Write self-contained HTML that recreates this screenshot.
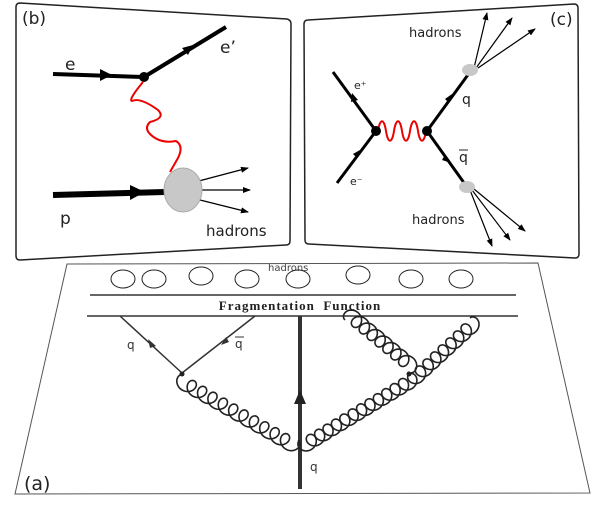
<!DOCTYPE html>
<html><head><meta charset="utf-8"><style>
html,body{margin:0;padding:0;background:#fff;width:600px;height:505px;overflow:hidden}
svg{display:block}
text{font-family:"DejaVu Sans","Liberation Sans",sans-serif}
</style></head><body>
<svg id="s" width="600" height="505" viewBox="0 0 600 505" xmlns="http://www.w3.org/2000/svg">
<defs>
<marker id="ah" markerWidth="8" markerHeight="8" refX="7" refY="4" orient="auto" markerUnits="userSpaceOnUse"><path d="M0,1 L8,4 L0,7 Z" fill="#000"/></marker>
</defs>
<path d="M20,3 L287,19 Q291,20 291,24 L290,241 Q290,245 286,245 L20,260 Q16,260 16,256 L16,7 Q16,3 20,3 Z" fill="#fff" stroke="#222" stroke-width="1.5"/>
<path d="M308,20 L574,4 Q578,4 578,8 L579,254 Q579,258 575,258 L309,244 Q305,244 305,240 L304,24 Q304,20 308,20 Z" fill="#fff" stroke="#222" stroke-width="1.5"/>
<path d="M67,264 L538,263 L590,493 L15,494 Z" fill="#fff" stroke="#555" stroke-width="1"/>

<text x="22" y="24" font-size="17" fill="#222">(b)</text>
<line x1="53" y1="74" x2="144" y2="77" stroke="#000" stroke-width="4"/>
<path d="M100,69 L112,75 L100,81 Z" fill="#000"/>
<line x1="144" y1="77" x2="226" y2="27" stroke="#000" stroke-width="4"/>
<path d="M182,48 L193,45 L188,55 Z" fill="#000"/>
<circle cx="144" cy="77" r="5" fill="#000"/>
<text x="65" y="70" font-size="17" fill="#222">e</text>
<text x="220" y="53" font-size="17" fill="#222">e’</text>
<path d="M143,82 Q128,100 132,101 Q140,97 158,110 Q166,118 150,122 Q144,128 150,134 Q160,144 176,141 Q184,146 178,158 L170,172" fill="none" stroke="#e00" stroke-width="2" stroke-linejoin="round"/>
<line x1="53" y1="195" x2="165" y2="192" stroke="#000" stroke-width="6"/>
<path d="M130,185 L145,192 L130,200 Z" fill="#000"/>
<line x1="195" y1="182" x2="248" y2="168" stroke="#000" stroke-width="1.3" marker-end="url(#ah)"/>
<line x1="200" y1="190" x2="250" y2="190" stroke="#000" stroke-width="1.3" marker-end="url(#ah)"/>
<line x1="196" y1="199" x2="248" y2="212" stroke="#000" stroke-width="1.3" marker-end="url(#ah)"/>
<ellipse cx="183" cy="190" rx="19" ry="22" fill="#c8c8c8" stroke="#aaa"/>
<text x="60" y="224" font-size="17" fill="#222">p</text>
<text x="206" y="236" font-size="15" fill="#222">hadrons</text>

<text x="550" y="25" font-size="17" fill="#222">(c)</text>
<line x1="333" y1="72" x2="376" y2="131" stroke="#000" stroke-width="3"/>
<line x1="337" y1="183" x2="376" y2="131" stroke="#000" stroke-width="3"/>
<line x1="427" y1="131" x2="470" y2="72" stroke="#000" stroke-width="3"/>
<line x1="427" y1="131" x2="467" y2="187" stroke="#000" stroke-width="3"/>
<path d="M352,93 L358,100 L351,102 Z" fill="#000"/>
<path d="M360,150 L357,158 L353,154 Z" fill="#000"/>
<path d="M452,94 L449,103 L445,99 Z" fill="#000"/>
<path d="M445,155 L448,162 L442,160 Z" fill="#000"/>
<path d="M378,131 C380,118 384,118 386,131 C388,144 392,144 394,131 C396,118 400,118 402,131 C404,144 408,144 410,131 C412,118 416,118 418,131 C420,144 424,144 426,131" fill="none" stroke="#e00" stroke-width="2"/>
<circle cx="376" cy="131" r="5" fill="#000"/>
<circle cx="427" cy="131" r="5" fill="#000"/>
<g stroke="#000" stroke-width="1.2">
<line x1="474" y1="68" x2="487" y2="13" marker-end="url(#ah)"/>
<line x1="476" y1="68" x2="512" y2="18" marker-end="url(#ah)"/>
<line x1="478" y1="68" x2="535" y2="29" marker-end="url(#ah)"/>
<line x1="470" y1="190" x2="492" y2="246" marker-end="url(#ah)"/>
<line x1="472" y1="190" x2="510" y2="240" marker-end="url(#ah)"/>
<line x1="474" y1="189" x2="525" y2="231" marker-end="url(#ah)"/>
</g>
<ellipse cx="470" cy="70" rx="8" ry="6" fill="#c8c8c8"/>
<ellipse cx="467" cy="187" rx="8" ry="6" fill="#c8c8c8"/>
<text x="409" y="37" font-size="13" fill="#222">hadrons</text>
<text x="412" y="224" font-size="13" fill="#222">hadrons</text>
<text x="354" y="89" font-size="11" fill="#222">e⁺</text>
<text x="350" y="185" font-size="11" fill="#222">e⁻</text>
<text x="462" y="104" font-size="14" fill="#222">q</text>
<text x="459" y="162" font-size="14" fill="#222">q</text>
<line x1="459" y1="150" x2="468" y2="150" stroke="#222" stroke-width="1"/>

<text x="268" y="271" font-size="10" fill="#444">hadrons</text>
<g fill="none" stroke="#222" stroke-width="1">
<ellipse cx="123" cy="279" rx="12" ry="9"/><ellipse cx="154" cy="279" rx="12" ry="9"/>
<ellipse cx="201" cy="276" rx="12" ry="9"/><ellipse cx="247" cy="279" rx="12" ry="9"/>
<ellipse cx="298" cy="279" rx="12" ry="9"/><ellipse cx="358" cy="275" rx="12" ry="9"/>
<ellipse cx="411" cy="279" rx="12" ry="9"/><ellipse cx="461" cy="279" rx="12" ry="9"/>
</g>
<line x1="90" y1="295" x2="516" y2="295" stroke="#333" stroke-width="1.5"/>
<line x1="87" y1="316" x2="518" y2="316" stroke="#333" stroke-width="1.5"/>
<text x="300" y="310" font-size="13" font-weight="bold" text-anchor="middle" fill="#222" style="font-family:'Liberation Serif',serif;letter-spacing:1px">Fragmentation&#160;&#160;Function</text>
<line x1="300" y1="316" x2="300" y2="489" stroke="#333" stroke-width="4"/>
<path d="M294,404 L300,390 L306,404 Z" fill="#222"/>
<text x="310" y="471" font-size="12" fill="#333">q</text>
<line x1="120" y1="316" x2="182" y2="373" stroke="#333" stroke-width="1.5"/>
<line x1="255" y1="316" x2="182" y2="373" stroke="#333" stroke-width="1.5"/>
<path d="M148,339 L156,346 L150,348 Z" fill="#333"/>
<path d="M221,345 L226,337 L229,342 Z" fill="#333"/>
<circle cx="182" cy="374" r="2.5" fill="#222"/>
<circle cx="409" cy="374" r="2.5" fill="#222"/>
<text x="127" y="349" font-size="12" fill="#333">q</text>
<text x="235" y="348" font-size="12" fill="#333">q</text>
<line x1="235" y1="337" x2="244" y2="337" stroke="#333" stroke-width="1"/>
<text x="24" y="490" font-size="19" fill="#222">(a)</text>
<g id="gl" fill="none" stroke="#222" stroke-width="1.6"></g>
</svg>
<script>
function coil(x0,y0,x1,y1,n,a,b,side){
 var dx=x1-x0,dy=y1-y0,L=Math.hypot(dx,dy),ux=dx/L,uy=dy/L,px=-uy*side,py=ux*side;
 var d="",N=n*30;
 for(var i=0;i<=N;i++){var s=i/N,t=2*Math.PI*n*s;
  var al=s*L-a*Math.sin(t),pe=b*(1-Math.cos(t))*0.5;
  var x=x0+ux*al+px*pe,y=y0+uy*al+py*pe;
  d+=(i?"L":"M")+x.toFixed(2)+","+y.toFixed(2);}
 var p=document.createElementNS("http://www.w3.org/2000/svg","path");
 p.setAttribute("d",d);document.getElementById("gl").appendChild(p);
}
coil(184,375,298,440,11,7,14,1);
coil(300,440,409,374,13,7,14,1);
coil(409,374,470,318,8,7,14,1);
coil(345,320,408,372,8,7,14,-1);
</script>
</body></html>
